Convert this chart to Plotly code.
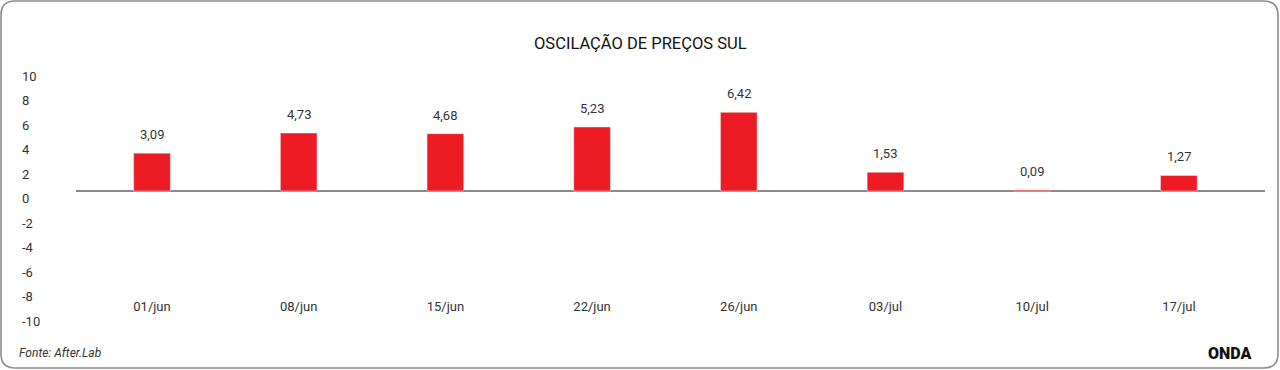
import plotly.graph_objects as go

categories = ["01/jun", "08/jun", "15/jun", "22/jun", "26/jun", "03/jul", "10/jul", "17/jul"]
values = [3.09, 4.73, 4.68, 5.23, 6.42, 1.53, 0.09, 1.27]
y_ticks = [-10, -8, -6, -4, -2, 0, 2, 4, 6, 8, 10]
title_text = "OSCILAÇÃO DE PREÇOS SUL"
source_text = "Fonte: After.Lab"
brand_text = "ONDA"

W, H = 1280, 370
ML, MR, MT, MB = 15, 15, 64, 40
PW = W - ML - MR
PH = H - MT - MB
FONT = "Roboto"
TXT = "#333333"
RED = "#ED1C24"


def px_x(p):
    return (p - ML) / PW


def px_y(p):
    return (H - MB - p) / PH


fig = go.Figure()
fig.add_trace(go.Bar(
    x=categories, y=values, marker_color=RED, width=0.25,
    hoverinfo="x+y", showlegend=False,
))
# helper trace so the secondary (label) axis is drawn
fig.add_trace(go.Scatter(
    x=[categories[0]], y=[0], mode="none", yaxis="y2",
    showlegend=False, hoverinfo="skip",
))

for c, v in zip(categories, values):
    fig.add_annotation(
        x=c, y=v, text=f"{v:.2f}".replace(".", ","), showarrow=False,
        yanchor="bottom", yshift=9, font=dict(family=FONT, size=13, color=TXT),
    )

# rounded card border
x0, x1 = px_x(1), px_x(1278)
y0, y1 = px_y(368), px_y(1)
r = 14
rx, ry = r / PW, r / PH
path = (
    f"M {x0 + rx},{y1} L {x1 - rx},{y1} Q {x1},{y1} {x1},{y1 - ry} "
    f"L {x1},{y0 + ry} Q {x1},{y0} {x1 - rx},{y0} "
    f"L {x0 + rx},{y0} Q {x0},{y0} {x0},{y0 + ry} "
    f"L {x0},{y1 - ry} Q {x0},{y1} {x0 + rx},{y1} Z"
)
fig.add_shape(type="path", path=path, xref="paper", yref="paper",
              line=dict(color="#8c8c8c", width=1.6), layer="below")

fig.add_annotation(x=px_x(640), y=px_y(43), xref="paper", yref="paper",
                   text=title_text, showarrow=False, xanchor="center", yanchor="middle",
                   font=dict(family=FONT, size=16.5, color="#111111"))
fig.add_annotation(x=px_x(17), y=px_y(353), xref="paper", yref="paper",
                   text=f"<i>{source_text}</i>", showarrow=False, xanchor="left", yanchor="middle",
                   font=dict(family=FONT, size=12, color=TXT))
fig.add_annotation(x=px_x(1253), y=px_y(353), xref="paper", yref="paper",
                   text=brand_text, showarrow=False, xanchor="right", yanchor="middle",
                   font=dict(family=FONT, size=16, color="#111111", weight=900))

scale = 12.25  # px per unit
zero_px = 191
label_zero_px = 198.5
top_px, bot_px = MT, H - MB

fig.update_layout(
    width=W, height=H,
    margin=dict(l=ML, r=MR, t=MT, b=MB),
    plot_bgcolor="white", paper_bgcolor="white",
    font=dict(family=FONT, size=13, color=TXT),
    xaxis=dict(
        domain=[px_x(76), 1.0], range=[-0.518, 7.587], type="category",
        anchor="free", position=px_y(297),
        showline=False, showgrid=False, zeroline=False, ticks="",
        tickfont=dict(family=FONT, size=13, color=TXT),
    ),
    yaxis=dict(
        range=[(zero_px - bot_px) / scale, (zero_px - top_px) / scale],
        showticklabels=False, showgrid=False, showline=False, ticks="",
        zeroline=True, zerolinecolor="#8a8a8a", zerolinewidth=1.5,
    ),
    yaxis2=dict(
        overlaying="y", anchor="free", position=0, side="right",
        range=[(label_zero_px - bot_px) / scale, (label_zero_px - top_px) / scale],
        tickvals=y_ticks, ticktext=[str(t) for t in y_ticks],
        showgrid=False, zeroline=False, showline=False, ticks="",
        ticklabelstandoff=6,
        tickfont=dict(family=FONT, size=13, color=TXT),
    ),
    bargap=0.75,
)

fig.write_html(
    "out.html",
    config={"displayModeBar": False},
    post_script="document.body.style.margin='0';document.body.style.overflow='hidden';",
)
